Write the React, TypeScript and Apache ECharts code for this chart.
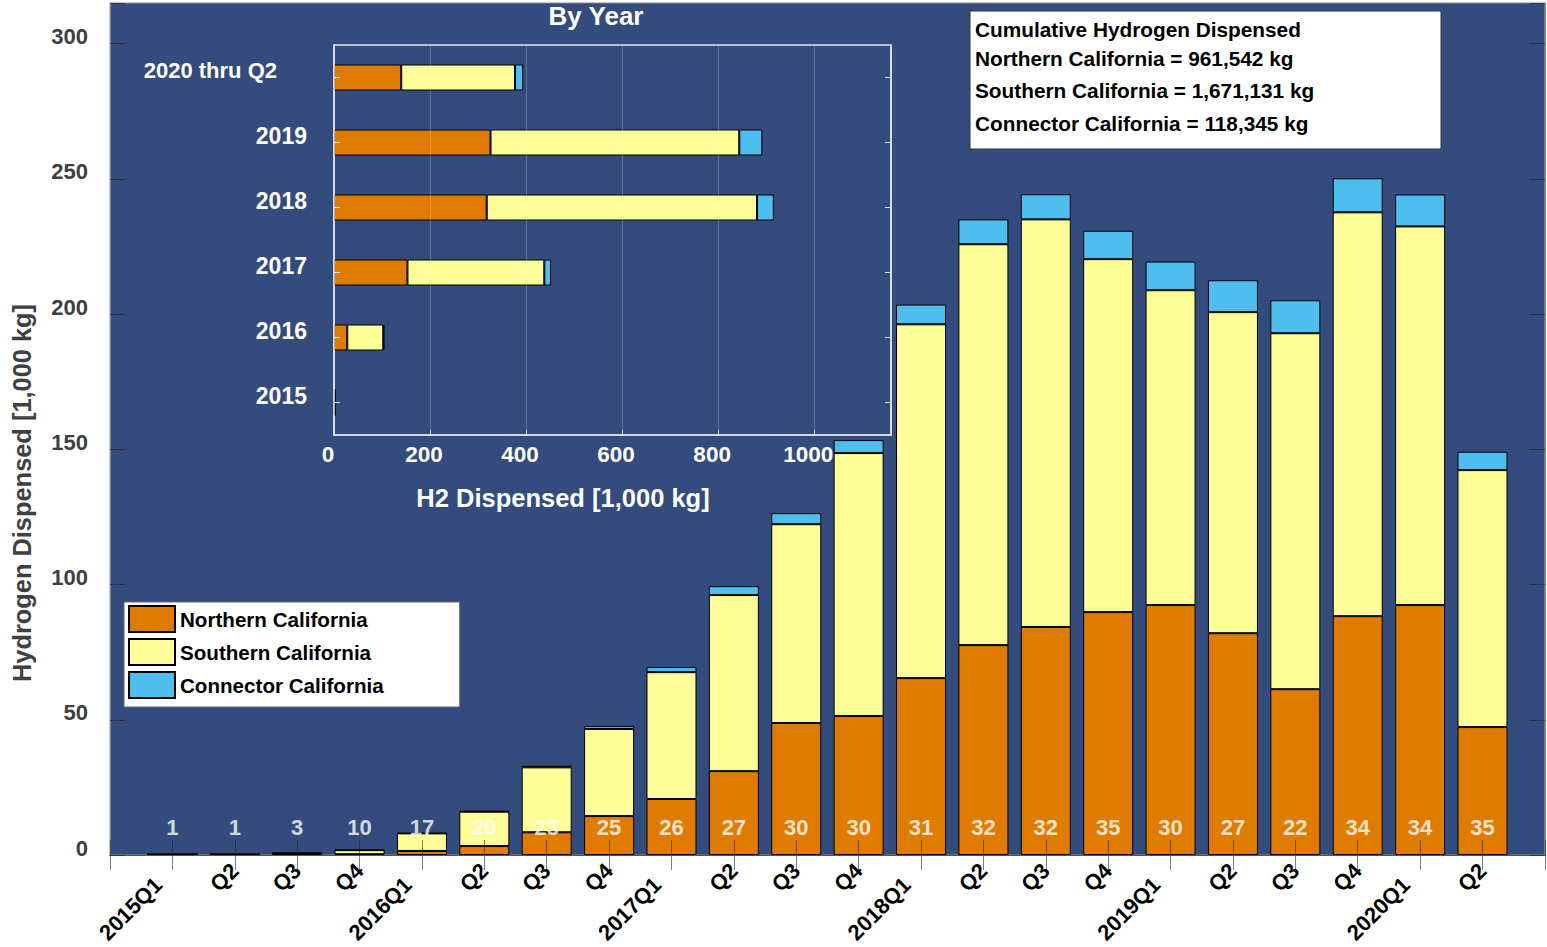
import React, { useEffect, useRef } from "react";
import * as echarts from "echarts";

const quarters = [
  "2015Q1", "Q2", "Q3", "Q4",
  "2016Q1", "Q2", "Q3", "Q4",
  "2017Q1", "Q2", "Q3", "Q4",
  "2018Q1", "Q2", "Q3", "Q4",
  "2019Q1", "Q2", "Q3", "Q4",
  "2020Q1", "Q2",
];
const north = [0.2, 0.2, 0.5, 0.3, 1.5, 3.3, 8.4, 14.4, 20.7, 31.0, 48.8, 51.4, 65.4, 77.6, 84.3, 89.8, 92.4, 82.0, 61.3, 88.3, 92.4, 47.3];
const south = [0.1, 0.1, 0.2, 1.5, 6.5, 12.7, 24.0, 32.2, 46.9, 65.1, 73.5, 97.2, 130.8, 148.2, 150.7, 130.5, 116.4, 118.7, 131.6, 149.3, 140.0, 95.0];
const connector = [0, 0, 0, 0, 0.1, 0.3, 0.6, 1.1, 1.9, 3.3, 4.1, 4.8, 7.3, 9.2, 9.3, 10.5, 10.6, 11.8, 12.2, 12.6, 11.8, 6.8];
const stationCounts = [1, 1, 3, 10, 17, 20, 23, 25, 26, 27, 30, 30, 31, 32, 32, 35, 30, 27, 22, 34, 34, 35];

const years = ["2015", "2016", "2017", "2018", "2019", "2020 thru Q2"];
const yearNorth = [1.2, 27.6, 153, 318, 326, 140];
const yearSouth = [1.9, 75, 285, 563, 518, 237];
const yearConnector = [0, 2.2, 14, 35, 48, 17];

const seriesNames = ["Northern California", "Southern California", "Connector California"];
const seriesColors = ["#DF7C00", "#FFFF99", "#4DBEEE"];

const cumulativeLines = [
  "Cumulative Hydrogen Dispensed",
  "Northern California = 961,542 kg",
  "Southern California = 1,671,131 kg",
  "Connector California = 118,345 kg",
];

const FONT = "Liberation Sans, Arial, Helvetica, sans-serif";
const BG = "#344B7D";

export default function App() {
  const ref = useRef<HTMLDivElement>(null);

  useEffect(() => {
    if (!ref.current) return;
    const chart = echarts.init(ref.current, undefined, { renderer: "svg" });

    // category axis with empty end slots so the plot spans one slot beyond each end bar
    const xCats = ["", ...quarters, ""];
    const pad = (arr: number[]) => ["-", ...arr, "-"];

    const mainSeries = [north, south, connector].map((arr, k) => ({
      type: "bar",
      name: seriesNames[k],
      stack: "main",
      xAxisIndex: 0,
      yAxisIndex: 0,
      barWidth: 50,
      data: pad(arr),
      itemStyle: { color: seriesColors[k], borderColor: "#000", borderWidth: 1 },
      z: 2,
    }));

    const insetSeries = [yearNorth, yearSouth, yearConnector].map((arr, k) => ({
      type: "bar",
      name: seriesNames[k],
      stack: "inset",
      xAxisIndex: 2,
      yAxisIndex: 2,
      barWidth: 26,
      data: arr,
      itemStyle: { color: seriesColors[k], borderColor: "#000", borderWidth: 1 },
      z: 2,
    }));

    const labelSeries = {
      type: "scatter",
      xAxisIndex: 0,
      yAxisIndex: 0,
      symbolSize: 1,
      itemStyle: { color: "rgba(0,0,0,0)" },
      data: stationCounts.map((_, i) => [i + 1, 10]),
      label: {
        show: true,
        position: "inside",
        formatter: (p: any) => String(stationCounts[p.dataIndex]),
        color: "#fff",
        textBorderWidth: 0,
        fontSize: 22,
        fontWeight: "bold",
        fontFamily: FONT,
      },
      z: 6,
    };

    const boldWhite = (size: number) => ({ color: "#fff", fontSize: size, fontWeight: "bold", fontFamily: FONT });

    const option: any = {
      animation: false,
      backgroundColor: "#fff",
      textStyle: { fontFamily: FONT },
      grid: [
        {
          left: 110, top: 3, width: 1439, height: 852,
          show: true, backgroundColor: BG, borderColor: "#888", borderWidth: 1,
        },
        {
          left: 334, top: 45, width: 557, height: 390,
          show: true, backgroundColor: "rgba(0,0,0,0)", borderColor: "#dfe3ea", borderWidth: 1.5,
        },
      ],
      legend: {
        data: seriesNames,
        orient: "vertical",
        left: 124,
        top: 602,
        icon: "rect",
        itemWidth: 46,
        itemHeight: 26,
        itemGap: 5,
        backgroundColor: "#fff",
        borderColor: "#666",
        borderWidth: 1,
        padding: [3, 76, 8, 4],
        textStyle: { fontSize: 20.6, fontWeight: "bold", color: "#000", fontFamily: FONT, lineHeight: 18, padding: [0, 0, 8, 0] },
        z: 10,
      },
      xAxis: [
        {
          type: "category",
          gridIndex: 0,
          data: xCats,
          boundaryGap: false,
          position: "bottom",
          axisLine: { show: true, lineStyle: { color: "#333", width: 1 } },
          axisTick: { show: true, interval: 0, inside: true, length: 15, lineStyle: { color: "rgba(40,40,40,0.6)", width: 1 } },
          axisLabel: {
            interval: 0,
            rotate: 45,
            margin: 12,
            formatter: (v: string) => (v.length > 2 ? "{y|" + v + "}" : v),
            color: "#000",
            fontSize: 22,
            fontWeight: "bold",
            fontFamily: FONT,
            rich: {
              y: { color: "#000", fontSize: 22, fontWeight: "bold", fontFamily: FONT, padding: [0, 20, 0, 0] },
            },
          },
          splitLine: { show: false },
          z: 5,
        },
        {
          type: "category",
          gridIndex: 0,
          data: xCats,
          boundaryGap: false,
          position: "top",
          axisLine: { show: true, lineStyle: { color: "#555", width: 1 } },
          axisTick: { show: true, interval: 0, inside: true, length: 15, lineStyle: { color: "rgba(40,40,40,0.6)", width: 1 } },
          axisLabel: { show: false },
          splitLine: { show: false },
          z: 5,
        },
        {
          type: "value",
          gridIndex: 1,
          min: 0,
          max: 1160,
          interval: 200,
          position: "bottom",
          axisLine: { show: true, lineStyle: { color: "#dfe3ea", width: 1.5 } },
          axisTick: { show: true, inside: true, length: 5, lineStyle: { color: "#dfe3ea" } },
          axisLabel: {
            margin: 8,
            formatter: (v: number) => (v % 200 === 0 ? "{a|" + v + "}" : ""),
            ...boldWhite(22.5),
            rich: { a: { ...boldWhite(22.5), padding: [0, 12, 0, 0] } },
          },
          splitLine: { show: true, lineStyle: { color: "rgba(255,255,255,0.22)", width: 1 } },
          z: 5,
        },
      ],
      yAxis: [
        {
          type: "value",
          gridIndex: 0,
          min: 0,
          max: 315,
          interval: 50,
          position: "left",
          axisLine: { show: true, lineStyle: { color: "#888", width: 1 } },
          axisTick: { show: true, inside: true, length: 15, lineStyle: { color: "rgba(40,40,40,0.7)", width: 1 } },
          axisLabel: {
            margin: 22,
            formatter: (v: number) => (v % 50 === 0 ? "{a|" + v + "}" : ""),
            color: "#404040",
            fontSize: 22,
            fontWeight: "bold",
            fontFamily: FONT,
            rich: {
              a: { color: "#404040", fontSize: 22, fontWeight: "bold", fontFamily: FONT, padding: [0, 0, 14, 0] },
            },
          },
          splitLine: { show: false },
          z: 5,
        },
        {
          type: "value",
          gridIndex: 0,
          min: 0,
          max: 315,
          interval: 50,
          position: "right",
          axisLine: { show: true, lineStyle: { color: "#888", width: 1 } },
          axisTick: { show: true, inside: true, length: 15, lineStyle: { color: "rgba(40,40,40,0.7)", width: 1 } },
          axisLabel: { show: false },
          splitLine: { show: false },
          z: 5,
        },
        {
          type: "category",
          gridIndex: 1,
          data: years,
          position: "left",
          axisLine: { show: true, lineStyle: { color: "#dfe3ea", width: 1.5 } },
          axisTick: { show: true, inside: true, length: 6, alignWithLabel: true, lineStyle: { color: "#dfe3ea" } },
          axisLabel: {
            margin: 27,
            ...boldWhite(23),
            formatter: (v: string) => (v.indexOf("thru") >= 0 ? "{p|" + v + "}" : "{a|" + v + "}"),
            rich: {
              a: { ...boldWhite(23), padding: [0, 0, 14, 0] },
              p: { ...boldWhite(22), padding: [0, 30, 14, 0] },
            },
          },
          splitLine: { show: false },
          z: 5,
        },
        {
          type: "category",
          gridIndex: 1,
          data: years,
          position: "right",
          axisLine: { show: true, lineStyle: { color: "#dfe3ea", width: 1.5 } },
          axisTick: { show: true, inside: true, length: 6, alignWithLabel: true, lineStyle: { color: "#dfe3ea" } },
          axisLabel: { show: false },
          splitLine: { show: false },
          z: 5,
        },
      ],
      series: [...mainSeries, ...insetSeries, labelSeries],
      graphic: [
        {
          type: "text",
          x: 596,
          y: 16,
          style: { text: "By Year", fill: "#fff", font: `bold 26px ${FONT}`, align: "center", verticalAlign: "middle" },
          z: 20,
        },
        {
          type: "text",
          x: 563,
          y: 498,
          style: { text: "H2 Dispensed [1,000 kg]", fill: "#fff", font: `bold 25.5px ${FONT}`, align: "center", verticalAlign: "middle" },
          z: 20,
        },
        {
          type: "text",
          x: 22,
          y: 493,
          rotation: Math.PI / 2,
          style: {
            text: "Hydrogen Dispensed [1,000 kg]",
            fill: "#404040",
            font: `bold 25.4px ${FONT}`,
            align: "center",
            verticalAlign: "middle",
          },
          z: 20,
        },
        {
          type: "group",
          z: 20,
          children: [
            {
              type: "rect",
              shape: { x: 970, y: 11, width: 471, height: 138 },
              style: { fill: "#fff", stroke: "#333", lineWidth: 1 },
            },
            ...cumulativeLines.map((t, i) => ({
              type: "text",
              x: 975,
              y: [29, 58, 90, 123][i],
              style: {
                text: t,
                fill: "#000",
                font: `bold 20.8px ${FONT}`,
                align: "left",
                verticalAlign: "middle",
              },
            })),
          ],
        },
      ],
    };

    chart.setOption(option);
    return () => chart.dispose();
  }, []);

  return (
    <div
      ref={ref}
      style={{ position: "absolute", left: 0, top: 0, width: 1547, height: 947 }}
    />
  );
}
